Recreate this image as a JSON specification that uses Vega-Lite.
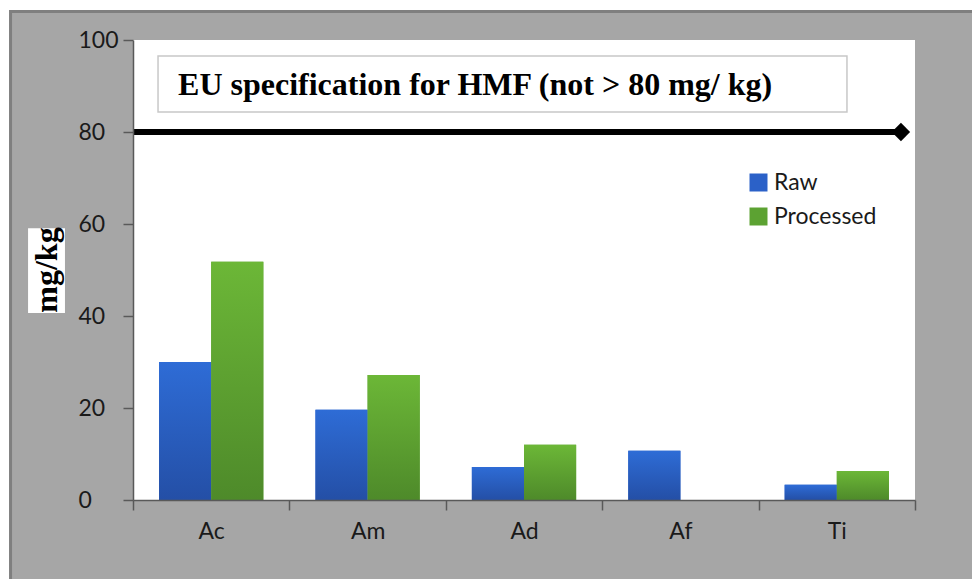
{
  "$schema": "https://vega.github.io/schema/vega-lite/v6.json",
  "autosize": {"type": "none"},
  "width": 782,
  "height": 460,
  "padding": {"left": 133, "top": 40, "right": 57, "bottom": 79},
  "background": "white",
  "config": {
    "view": {"stroke": null, "fill": null},
    "axis": {
      "labelFont": "Lato",
      "labelFontSize": 23,
      "labelColor": "#1a1a1a",
      "domainColor": "#595959",
      "tickColor": "#595959",
      "domainWidth": 1.5,
      "tickWidth": 1.5,
      "grid": false,
      "zindex": 1
    },
    "axisY": {"labelAlign": "left", "labelPadding": 45, "tickSize": 10},
    "legend": {
      "labelFont": "Lato",
      "labelFontSize": 23,
      "labelColor": "#1a1a1a"
    }
  },
  "layer": [
    {
      "layer": [
        {
          "data": {"values": [{"x1": -0.783, "x2": 6, "y1": 106.2, "y2": -30}]},
          "mark": {"type": "rect", "fill": "#a6a6a6", "stroke": "#7f7f7f", "strokeWidth": 3},
          "encoding": {
            "x": {"field": "x1", "type": "quantitative", "scale": {"domain": [0, 5], "nice": false, "zero": false}, "axis": null},
            "x2": {"field": "x2"},
            "y": {"field": "y1", "type": "quantitative", "scale": {"domain": [0, 100], "nice": false}, "axis": {"title": null, "values": [0, 20, 40, 60, 80, 100], "zindex": 1}},
            "y2": {"field": "y2"}
          }
        },
        {
          "data": {"values": [{"x1": 0, "x2": 5, "y1": 0, "y2": 100}]},
          "mark": {"type": "rect", "fill": "white"},
          "encoding": {
            "x": {"field": "x1", "type": "quantitative", "scale": {"domain": [0, 5], "nice": false, "zero": false}, "axis": null},
            "x2": {"field": "x2"},
            "y": {"field": "y1", "type": "quantitative", "scale": {"domain": [0, 100], "nice": false}, "axis": {"title": null, "values": [0, 20, 40, 60, 80, 100], "zindex": 1}},
            "y2": {"field": "y2"}
          }
        },
        {
          "data": {"values": [{"x1": 0.16, "x2": 4.565, "y1": 96.5, "y2": 84.35}]},
          "mark": {"type": "rect", "fill": "white", "stroke": "#c8c8c8", "strokeWidth": 1.5},
          "encoding": {
            "x": {"field": "x1", "type": "quantitative", "scale": {"domain": [0, 5], "nice": false, "zero": false}, "axis": null},
            "x2": {"field": "x2"},
            "y": {"field": "y1", "type": "quantitative", "scale": {"domain": [0, 100], "nice": false}, "axis": {"title": null, "values": [0, 20, 40, 60, 80, 100], "zindex": 1}},
            "y2": {"field": "y2"}
          }
        },
        {
          "data": {"values": [{"x": 0.288, "y": 88.0, "label": "EU specification for HMF (not > 80 mg/ kg)"}]},
          "mark": {"type": "text", "font": "Liberation Serif", "fontWeight": "bold", "fontSize": 32, "align": "left", "baseline": "alphabetic", "color": "black"},
          "encoding": {
            "x": {"field": "x", "type": "quantitative", "scale": {"domain": [0, 5], "nice": false, "zero": false}, "axis": null},
            "y": {"field": "y", "type": "quantitative", "scale": {"domain": [0, 100], "nice": false}, "axis": {"title": null, "values": [0, 20, 40, 60, 80, 100], "zindex": 1}},
            "text": {"field": "label"}
          }
        },
        {
          "data": {"values": [{"x": 0, "y": 80}, {"x": 4.91, "y": 80}]},
          "mark": {"type": "line", "color": "black", "strokeWidth": 6},
          "encoding": {
            "x": {"field": "x", "type": "quantitative", "scale": {"domain": [0, 5], "nice": false, "zero": false}, "axis": null},
            "y": {"field": "y", "type": "quantitative", "scale": {"domain": [0, 100], "nice": false}, "axis": {"title": null, "values": [0, 20, 40, 60, 80, 100], "zindex": 1}}
          }
        },
        {
          "data": {"values": [{"x": 4.91, "y": 80}]},
          "mark": {"type": "point", "shape": "diamond", "filled": true, "color": "black", "size": 340, "opacity": 1},
          "encoding": {
            "x": {"field": "x", "type": "quantitative", "scale": {"domain": [0, 5], "nice": false, "zero": false}, "axis": null},
            "y": {"field": "y", "type": "quantitative", "scale": {"domain": [0, 100], "nice": false}, "axis": {"title": null, "values": [0, 20, 40, 60, 80, 100], "zindex": 1}}
          }
        },
        {
          "data": {"values": [{"x1": -0.671, "x2": -0.435, "y1": 40.65, "y2": 59.1}]},
          "mark": {"type": "rect", "fill": "white"},
          "encoding": {
            "x": {"field": "x1", "type": "quantitative", "scale": {"domain": [0, 5], "nice": false, "zero": false}, "axis": null},
            "x2": {"field": "x2"},
            "y": {"field": "y1", "type": "quantitative", "scale": {"domain": [0, 100], "nice": false}, "axis": {"title": null, "values": [0, 20, 40, 60, 80, 100], "zindex": 1}},
            "y2": {"field": "y2"}
          }
        },
        {
          "data": {"values": [{"x": -0.55, "y": 50, "label": "mg/kg"}]},
          "mark": {"type": "text", "font": "Liberation Serif", "fontWeight": "bold", "fontSize": 32, "angle": 270, "align": "center", "baseline": "middle", "color": "black"},
          "encoding": {
            "x": {"field": "x", "type": "quantitative", "scale": {"domain": [0, 5], "nice": false, "zero": false}, "axis": null},
            "y": {"field": "y", "type": "quantitative", "scale": {"domain": [0, 100], "nice": false}, "axis": {"title": null, "values": [0, 20, 40, 60, 80, 100], "zindex": 1}},
            "text": {"field": "label"}
          }
        }
      ]
    },
    {
      "data": {
        "values": [
          {"cat": "Ac", "series": "Raw", "value": 30},
          {"cat": "Ac", "series": "Processed", "value": 51.8},
          {"cat": "Am", "series": "Raw", "value": 19.6},
          {"cat": "Am", "series": "Processed", "value": 27.2},
          {"cat": "Ad", "series": "Raw", "value": 7.2},
          {"cat": "Ad", "series": "Processed", "value": 12},
          {"cat": "Af", "series": "Raw", "value": 10.7},
          {"cat": "Af", "series": "Processed", "value": 0},
          {"cat": "Ti", "series": "Raw", "value": 3.3},
          {"cat": "Ti", "series": "Processed", "value": 6.3}
        ]
      },
      "encoding": {
        "x": {
          "field": "cat", "type": "nominal",
          "scale": {"domain": ["Ac", "Am", "Ad", "Af", "Ti"], "paddingInner": 0, "paddingOuter": 0},
          "axis": {"title": null, "labelAngle": 0, "tickBand": "extent", "tickSize": 10, "labelPadding": 10, "zindex": 1}
        },
        "xOffset": {"field": "series", "type": "nominal", "scale": {"domain": ["Raw", "Processed"], "paddingInner": 0, "paddingOuter": 0.5}},
        "y": {
          "field": "value", "type": "quantitative",
          "scale": {"domain": [0, 100], "nice": false},
          "axis": {"title": null, "values": [0, 20, 40, 60, 80, 100], "zindex": 1}
        }
      },
      "layer": [
        {
          "mark": {"type": "bar"},
          "encoding": {
            "color": {
              "field": "series", "type": "nominal",
              "scale": {"domain": ["Raw", "Processed"], "range": ["#2b61c8", "#5ca232"]},
              "legend": {"title": null, "orient": "none", "legendX": 614, "legendY": 131, "symbolType": "square", "symbolSize": 324, "symbolStrokeWidth": 0, "rowPadding": 10, "labelOffset": 4}
            }
          }
        },
        {
          "transform": [{"filter": "datum.series === 'Raw'"}],
          "mark": {"type": "bar", "color": {"gradient": "linear", "x1": 0, "y1": 0, "x2": 0, "y2": 1, "stops": [{"offset": 0, "color": "#2e6cd6"}, {"offset": 1, "color": "#244fa6"}]}}
        },
        {
          "transform": [{"filter": "datum.series === 'Processed'"}],
          "mark": {"type": "bar", "color": {"gradient": "linear", "x1": 0, "y1": 0, "x2": 0, "y2": 1, "stops": [{"offset": 0, "color": "#6cb737"}, {"offset": 1, "color": "#4e8a2a"}]}}
        }
      ]
    }
  ],
  "resolve": {"scale": {"x": "independent"}}
}
